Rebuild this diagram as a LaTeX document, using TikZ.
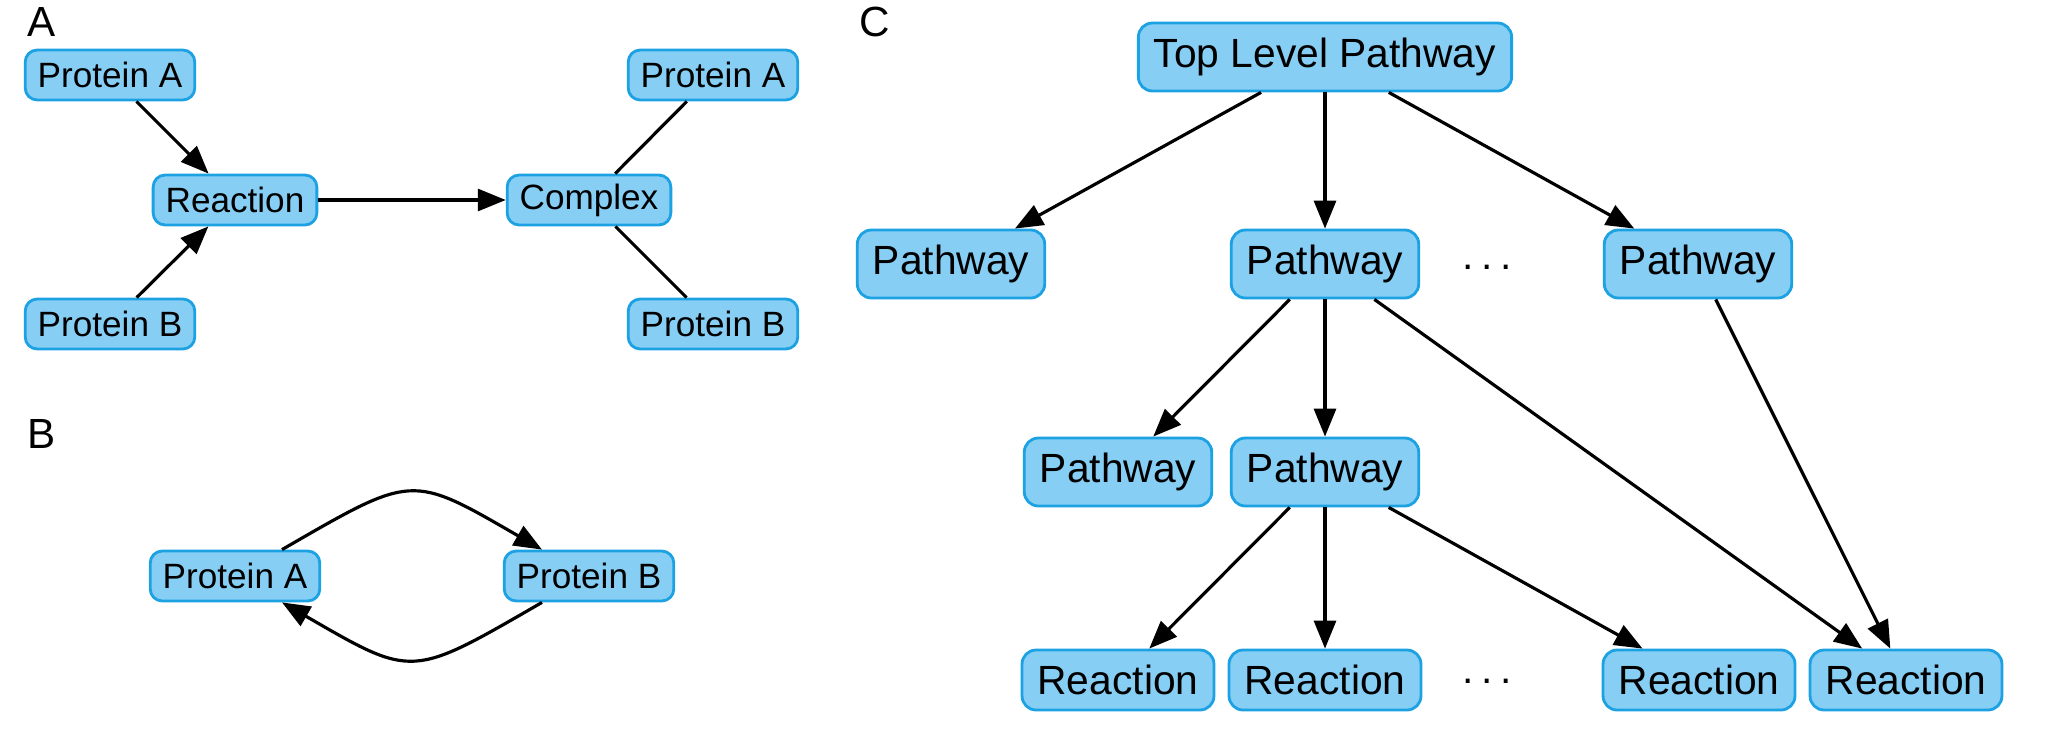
\documentclass[tikz,border=0pt]{standalone}
\usepackage{fontspec}
\setmainfont{Liberation Sans}
\usepackage{tikz}
\usetikzlibrary{arrows.meta}

\definecolor{boxfill}{RGB}{135,206,245}
\definecolor{boxline}{RGB}{28,161,226}

\begin{document}
\begin{tikzpicture}[
        box/.style={rectangle, rounded corners=1.2mm, draw=boxline, fill=boxfill, line width=0.8pt,
            font=\fontsize{10}{12}\selectfont, minimum height=0.5cm, inner xsep=1.25mm, inner ysep=0pt},
        bigbox/.style={box, rounded corners=1.4mm, font=\fontsize{11.6}{14}\selectfont,
            minimum height=0.68cm, inner xsep=1.55mm},
        reacbox/.style={bigbox, minimum height=0.6cm},
        panel/.style={font=\fontsize{12}{14}\selectfont},
        more/.style={font=\fontsize{11.6}{14}\selectfont},
        edge/.style={line width=0.9pt},
        arr/.style={edge, -{Triangle[length=2.8mm, width=2.2mm]}}
    ]

        % Fix the size of the picture
        \useasboundingbox (0, 0) rectangle (20.55, 7.38);

        % Panel labels
        \node[panel] (labA) at (0.42, 7.16) {A};
        \node[panel] (labB) at (0.42, 3.04) {B};
        \node[panel] (labC) at (8.75, 7.16) {C};

        % Panel A: two proteins form a complex
        \node[box] (pA1) at (1.10, 6.63) {Protein A};
        \node[box] (pB1) at (1.10, 4.14) {Protein B};
        \node[box] (reac) at (2.35, 5.38) {Reaction};
        \node[box] (cplx) at (5.89, 5.38) {Complex};
        \node[box] (pA2) at (7.13, 6.63) {Protein A};
        \node[box] (pB2) at (7.13, 4.14) {Protein B};

        \draw[arr] (pA1) -- (reac);
        \draw[arr] (pB1) -- (reac);
        \draw[arr] (reac) -- (cplx);
        \draw[edge] (cplx) -- (pA2);
        \draw[edge] (cplx) -- (pB2);

        % Panel B: two proteins acting on each other
        \node[box] (pA3) at (2.35, 1.62) {Protein A};
        \node[box] (pB3) at (5.89, 1.62) {Protein B};

        \draw[arr] ([xshift=0.47cm]pA3.north) to[out=30, in=150, looseness=1.5] ([xshift=-0.47cm]pB3.north);
        \draw[arr] ([xshift=-0.47cm]pB3.south) to[out=-150, in=-30, looseness=1.5] ([xshift=0.47cm]pA3.south);

        % Panel C: pathway hierarchy
        \node[bigbox] (top) at (13.25, 6.81) {Top Level Pathway};

        \node[bigbox] (pw1) at (9.51, 4.74) {Pathway};
        \node[bigbox] (pw2) at (13.25, 4.74) {Pathway};
        \node[more] (dots1) at (14.87, 4.71) {.\kern2.2pt.\kern2.2pt.};
        \node[bigbox] (pw3) at (16.98, 4.74) {Pathway};

        \node[bigbox] (pw4) at (11.18, 2.66) {Pathway};
        \node[bigbox] (pw5) at (13.25, 2.66) {Pathway};

        \node[reacbox] (rx1) at (11.18, 0.58) {Reaction};
        \node[reacbox] (rx2) at (13.25, 0.58) {Reaction};
        \node[more] (dots2) at (14.87, 0.57) {.\kern2.2pt.\kern2.2pt.};
        \node[reacbox] (rx3) at (16.99, 0.58) {Reaction};
        \node[reacbox] (rx4) at (19.06, 0.58) {Reaction};

        % Draw the hierarchy edges
        \draw[arr] (top) -- (pw1);
        \draw[arr] (top) -- (pw2);
        \draw[arr] (top) -- (pw3);

        \draw[arr] (pw2) -- (pw4);
        \draw[arr] (pw2) -- (pw5);
        \draw[arr] (pw2) -- (rx4);
        \draw[arr] (pw3) -- (rx4);

        \draw[arr] (pw5) -- (rx1);
        \draw[arr] (pw5) -- (rx2);
        \draw[arr] (pw5) -- (rx3);

    \end{tikzpicture}
\end{document}
